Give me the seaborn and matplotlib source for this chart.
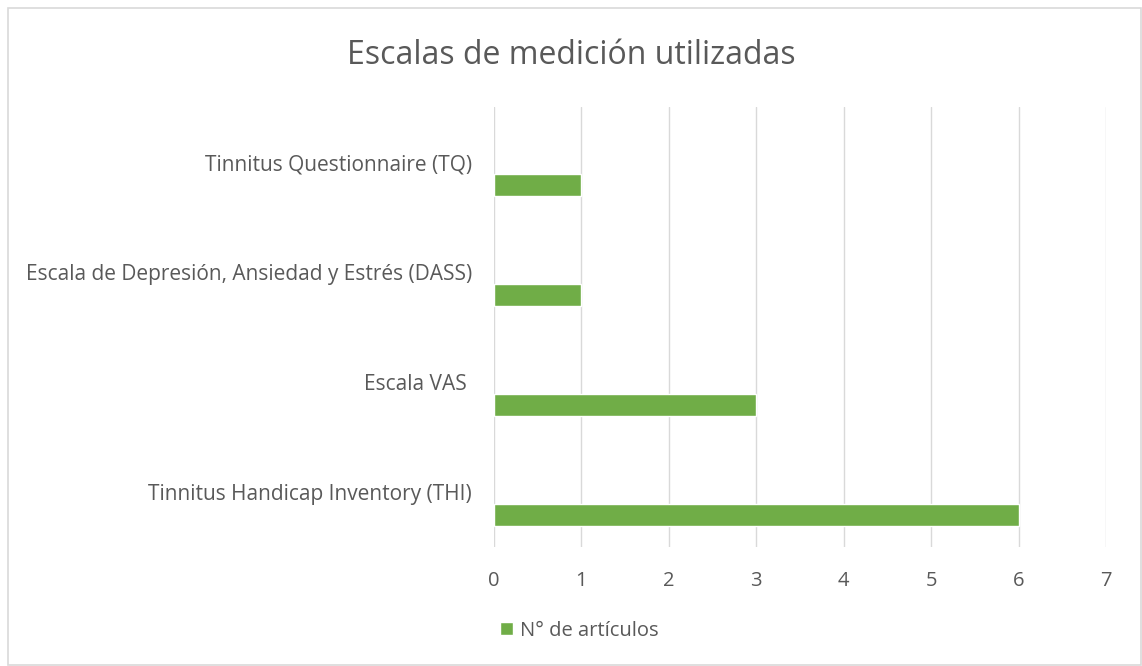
import numpy as np
import pandas as pd
import matplotlib
matplotlib.use("Agg")
import matplotlib.pyplot as plt
from matplotlib.patches import Rectangle, Patch
import seaborn as sns

escalas = ["Tinnitus Questionnaire (TQ)",
           "Escala de Depresión, Ansiedad y Estrés (DASS)",
           "Escala VAS ",
           "Tinnitus Handicap Inventory (THI)"]
articulos = [1, 1, 3, 6]
serie = "N° de artículos"

df = pd.DataFrame({"escala": escalas, "n": articulos})

sns.set_style("white")
plt.rcParams["font.family"] = ["Open Sans", "DejaVu Sans"]

fig = plt.figure(figsize=(11.42, 6.66), dpi=100)
ax = fig.add_axes([0.4326, 0.1787, 0.5359, 0.6606])

verde = "#70AD47"
gris_texto = "#595959"

sns.barplot(data=df, y="escala", x="n", orient="h", color=verde,
            saturation=1, width=0.2, ax=ax)

# bars sit a bit below their label, like Excel's clustered layout
ax.set_ylim(3.5, -0.5)
offset = 0.205
for p in ax.patches:
    p.set_y(p.get_y() + offset)
ax.set_yticks(np.arange(len(escalas)), escalas)

ax.set_xlim(0, 7)
ax.set_xticks(range(0, 8))
ax.xaxis.grid(True, color="#D9D9D9", linewidth=1)
ax.set_axisbelow(True)
for s in ax.spines.values():
    s.set_visible(False)
ax.tick_params(axis="both", length=0, colors=gris_texto, labelsize=15)
ax.tick_params(axis="x", pad=17, labelsize=14.5)
ax.tick_params(axis="y", pad=16)
ax.set_xlabel("")
ax.set_ylabel("")

fig.text(0.5, 0.917, "Escalas de medición utilizadas", ha="center", va="center",
         fontsize=23, color=gris_texto)

fig.legend(handles=[Patch(facecolor=verde, label=serie)], loc="center",
           bbox_to_anchor=(0.507, 0.053), frameon=False, fontsize=14.5,
           handlelength=0.65, handleheight=0.65, handletextpad=0.35,
           labelcolor=gris_texto)

fig.patches.append(Rectangle((0.007, 0.002), 0.992, 0.986, transform=fig.transFigure,
                             fill=False, edgecolor="#D9D9D9", linewidth=1.2))

fig.savefig("out.png", dpi=100)
